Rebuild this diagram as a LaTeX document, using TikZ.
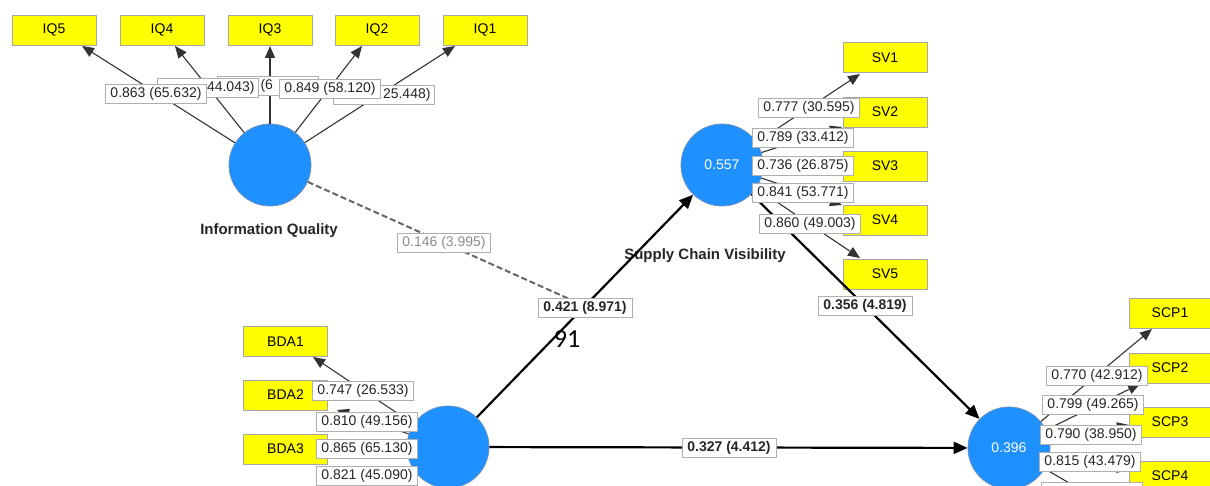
\documentclass[tikz,border=0pt]{standalone}
\usepackage{fontspec}
\setmainfont{Liberation Sans}
\newfontfamily\calib{Carlito}
\usetikzlibrary{arrows.meta,calc}
\definecolor{lvblue}{RGB}{30,144,255}
\definecolor{lvedge}{RGB}{110,145,190}
\definecolor{mvyellow}{RGB}{255,255,0}
\definecolor{lblgray}{RGB}{175,175,175}
\begin{document}
\begin{tikzpicture}[x=1pt,y=-1pt,
  lv/.style={circle,fill=lvblue,draw=lvedge,line width=0.8pt,minimum size=82pt,inner sep=0pt,text=white,font=\fontsize{14}{16}\selectfont},
  mv/.style={rectangle,fill=mvyellow,draw=gray!70,line width=0.6pt,minimum width=84pt,minimum height=30pt,inner sep=0pt,font=\fontsize{14}{16}\selectfont},
  ld/.style={fill=white,draw=lblgray,line width=0.7pt,inner sep=0pt,minimum width=101pt,minimum height=19pt,font=\fontsize{14}{16}\selectfont,text=black!85},
  ldpart/.style={ld,text width=93pt},
  pl/.style={ld,minimum width=94pt,font=\bfseries\fontsize{14}{16}\selectfont},
  lvname/.style={font=\bfseries\fontsize{15}{17}\selectfont,text=black!85},
  ldline/.style={draw=black!80,line width=1.1pt,-{Triangle[length=12pt,width=10pt]}},
  pathline/.style={draw=black,line width=2.2pt,-{Triangle[length=14pt,width=12pt]}},
  modline/.style={draw=black!60,line width=2pt,dash pattern=on 6pt off 3pt}
]
\useasboundingbox[fill=white] (0,0) rectangle (1210,486);

% latent variables
\node[lv] (iq) at (270,165) {};
\node[lvname] (iqlab) at (269,231) {Information Quality};
\node[lv] (sv) at (722,165) {0.557};
\node[lvname] (svlab) at (705,256) {Supply Chain Visibility};
\node[lv] (bda) at (448,447) {};
\node[lv] (scp) at (1009,448) {0.396};

% indicators
\node[mv] (iq5) at (54,30) {IQ5};
\node[mv] (iq4) at (162,30) {IQ4};
\node[mv] (iq3) at (270,30) {IQ3};
\node[mv] (iq2) at (377,30) {IQ2};
\node[mv] (iq1) at (485,30) {IQ1};
\node[mv] (sv1) at (885,57.5) {SV1};
\node[mv] (sv2) at (885,112) {SV2};
\node[mv] (sv3) at (885,166) {SV3};
\node[mv] (sv4) at (885,220) {SV4};
\node[mv] (sv5) at (885,274) {SV5};
\node[mv] (bda1) at (285.5,341.5) {BDA1};
\node[mv] (bda2) at (285.5,395) {BDA2};
\node[mv] (bda3) at (285.5,449) {BDA3};
\node[mv,minimum width=82pt] (scp1) at (1170,313) {SCP1};
\node[mv,minimum width=82pt] (scp2) at (1170,368) {SCP2};
\node[mv,minimum width=82pt] (scp3) at (1170,422) {SCP3};
\node[mv,minimum width=82pt] (scp4) at (1170,476) {SCP4};

% arrow tip coordinates
\coordinate (t-iq5) at (82,46);
\coordinate (t-iq4) at (175,46);
\coordinate (t-iq3) at (270,46);
\coordinate (t-iq2) at (362,46);
\coordinate (t-iq1) at (455,46);
\coordinate (t-sv1) at (860,74);
\coordinate (t-sv2) at (842,127);
\coordinate (t-sv3) at (842,166);
\coordinate (t-sv4) at (842,205);
\coordinate (t-sv5) at (860,258);
\coordinate (t-bda1) at (313,357);
\coordinate (t-bda2) at (337,410);
\coordinate (t-bda3) at (328,452);
\coordinate (t-scp1) at (1152,329);
\coordinate (t-scp2) at (1140,384);
\coordinate (t-scp3) at (1129,425);
\coordinate (t-scp4) at (1129,470);
\coordinate (t-scp5) at (1150,530);

% loading lines
\foreach \t in {iq5,iq4,iq3,iq2,iq1}{\draw[ldline] (iq) -- (t-\t);}
\foreach \t in {sv1,sv2,sv3,sv4,sv5}{\draw[ldline] (sv) -- (t-\t);}
\foreach \t in {bda1,bda2,bda3}{\draw[ldline] (bda) -- (t-\t);}
\foreach \t in {scp1,scp2,scp3,scp4,scp5}{\draw[ldline] (scp) -- (t-\t);}

% structural paths
\draw[pathline] (bda) -- coordinate (mid) (sv);
\draw[pathline] (bda) -- (scp);
\draw[pathline] (sv) -- (scp);
\draw[modline] (iq) -- (mid);

% loading labels (IQ, overlapping: only the visible parts carry text)
\node[ldpart,align=left] (l-iq3) at (268,85.5) {\hspace*{39pt}(6};
\node[ldpart,align=right] (l-iq1) at (384,95) {25.448)};
\node[ldpart,align=right] (l-iq4) at (208,87.5) {44.043)};
\node[ld] (l-iq2) at (330,89) {0.849 (58.120)};
\node[ld] (l-iq5) at (156,93.5) {0.863 (65.632)};

\node[ld] (l-sv1) at (809,108) {0.777 (30.595)};
\node[ld] (l-sv2) at (803,138) {0.789 (33.412)};
\node[ld] (l-sv3) at (803,166) {0.736 (26.875)};
\node[ld] (l-sv4) at (803,192.5) {0.841 (53.771)};
\node[ld] (l-sv5) at (810,224) {0.860 (49.003)};

\node[ld] (l-bda1) at (363,391) {0.747 (26.533)};
\node[ld] (l-bda2) at (367,422) {0.810 (49.156)};
\node[ld] (l-bda3) at (367,449) {0.865 (65.130)};
\node[ld] (l-bda4) at (367,476) {0.821 (45.090)};

\node[ld] (l-scp1) at (1097,376) {0.770 (42.912)};
\node[ld] (l-scp2) at (1093,405) {0.799 (49.265)};
\node[ld] (l-scp3) at (1091,435) {0.790 (38.950)};
\node[ld] (l-scp4) at (1090,462) {0.815 (43.479)};
\node[ld] (l-scp5) at (1092,492) {};

% path labels
\node[ld,minimum width=93pt,text=black!45] (l-mod) at (444,243) {0.146 (3.995)};
\node[pl] (l-p1) at (585,308) {0.421 (8.971)};
\node[pl] (l-p2) at (729,448) {0.327 (4.412)};
\node[pl] (l-p3) at (865,305.5) {0.356 (4.819)};

\node[font=\calib\fontsize{26}{28}\selectfont] (pg) at (567,339) {91};
\end{tikzpicture}
\end{document}
